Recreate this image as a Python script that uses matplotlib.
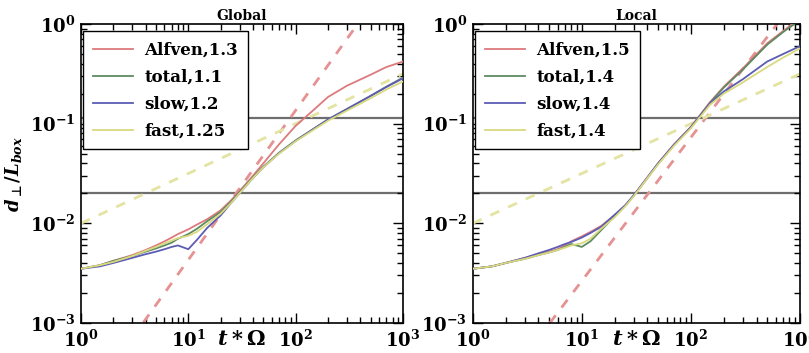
import numpy as np
import matplotlib
matplotlib.use("Agg")
from matplotlib import pyplot as plt

# 时间网格
t_vals = [1, 1.5, 2, 3, 4, 5, 6, 7, 8, 10, 12, 15, 20, 25, 30, 40, 50, 70,
          100, 150, 200, 300, 500, 700, 1000]

# Global 面板
glob_alfven = [0.0035, 0.0038, 0.0042, 0.0048, 0.0054, 0.0060, 0.0066, 0.0072, 0.0078,
               0.0087, 0.0097, 0.0110, 0.0135, 0.0170, 0.0210, 0.0300, 0.0400, 0.0620,
               0.0950, 0.1400, 0.1850, 0.2400, 0.3100, 0.3700, 0.4200]
glob_total = [0.0035, 0.0038, 0.0042, 0.0047, 0.0052, 0.0056, 0.0060, 0.0064, 0.0070,
              0.0078, 0.0088, 0.0105, 0.0130, 0.0165, 0.0205, 0.0290, 0.0370, 0.0510,
              0.0680, 0.0900, 0.1100, 0.1400, 0.1900, 0.2350, 0.2900]
glob_slow = [0.0035, 0.0037, 0.0040, 0.0045, 0.0049, 0.0052, 0.0055, 0.0058, 0.0060,
             0.0055, 0.0068, 0.0090, 0.0120, 0.0160, 0.0200, 0.0285, 0.0365, 0.0505,
             0.0670, 0.0900, 0.1100, 0.1400, 0.1900, 0.2330, 0.2850]
glob_fast = [0.0035, 0.0038, 0.0041, 0.0047, 0.0053, 0.0058, 0.0063, 0.0067, 0.0071,
             0.0075, 0.0082, 0.0098, 0.0125, 0.0160, 0.0200, 0.0285, 0.0365, 0.0500,
             0.0665, 0.0880, 0.1070, 0.1350, 0.1800, 0.2200, 0.2650]

# Local 面板
loc_alfven = [0.0035, 0.0037, 0.0040, 0.0045, 0.0049, 0.0052, 0.0055, 0.0060, 0.0066,
              0.0074, 0.0082, 0.0094, 0.0120, 0.0150, 0.0190, 0.0290, 0.0400, 0.0620,
              0.0930, 0.1650, 0.2350, 0.3600, 0.6400, 0.8500, 1.1500]
loc_total = [0.0035, 0.0037, 0.0040, 0.0044, 0.0048, 0.0051, 0.0054, 0.0058, 0.0062,
             0.0058, 0.0066, 0.0085, 0.0118, 0.0150, 0.0190, 0.0285, 0.0395, 0.0610,
             0.0920, 0.1620, 0.2300, 0.3500, 0.6200, 0.8300, 1.1000]
loc_slow = [0.0035, 0.0037, 0.0040, 0.0045, 0.0050, 0.0054, 0.0058, 0.0062, 0.0065,
            0.0072, 0.0080, 0.0092, 0.0122, 0.0152, 0.0192, 0.0290, 0.0400, 0.0615,
            0.0920, 0.1600, 0.2100, 0.2800, 0.4200, 0.5000, 0.6000]
loc_fast = [0.0035, 0.0037, 0.0040, 0.0044, 0.0048, 0.0051, 0.0054, 0.0057, 0.0060,
            0.0063, 0.0070, 0.0088, 0.0115, 0.0148, 0.0188, 0.0285, 0.0390, 0.0600,
            0.0900, 0.1550, 0.2000, 0.2600, 0.3700, 0.4600, 0.5700]

glob_labels = ["Alfven,1.3", "total,1.1", "slow,1.2", "fast,1.25"]
loc_labels = ["Alfven,1.5", "total,1.4", "slow,1.4", "fast,1.4"]

# 幂律参考线 (振幅, 指数)
glob_steep = (1.36e-4, 1.5)
loc_steep = (9.6e-5, 1.44)
shallow = (0.01, 0.5)

# 水平参考线
h_levels = [0.02, 0.115]

colors = ["#dd7a7c", "#5d8a62", "#5c5cb4", "#d9d97e"]

plt.rcParams["font.family"] = "DejaVu Serif"
plt.rcParams["font.weight"] = "bold"
plt.rcParams["mathtext.fontset"] = "custom"
plt.rcParams["mathtext.rm"] = "DejaVu Serif:bold"
plt.rcParams["mathtext.it"] = "DejaVu Serif:italic:bold"
plt.rcParams["mathtext.bf"] = "DejaVu Serif:bold"
plt.rcParams["mathtext.sf"] = "DejaVu Sans:bold"


def draw_panel(ax, title, series, labels, steep, show_ylabel):
    t = np.array(t_vals)
    for lv in h_levels:
        ax.axhline(lv, color="#6e6e6e", lw=1.6, zorder=1)
    tt = np.logspace(0, 3, 200)
    ax.plot(tt, steep[0] * tt ** steep[1], color="#e59292", lw=2,
            dashes=(3.5, 3.5), zorder=2)
    ax.plot(tt, shallow[0] * tt ** shallow[1], color="#e3e3a2", lw=2,
            dashes=(3.5, 3.5), zorder=2)
    for ys, c, lab in zip(series, colors, labels):
        ax.plot(t, ys, color=c, lw=1.3, label=lab, zorder=3)
    ax.set_xscale("log")
    ax.set_yscale("log")
    ax.set_xlim(1, 1000)
    ax.set_ylim(1e-3, 1)
    ax.tick_params(which="both", direction="in", top=True, right=True,
                   labelsize=13, pad=4)
    ax.tick_params(axis="x", pad=5)
    ax.tick_params(which="major", length=7, width=1)
    ax.tick_params(which="minor", length=4, width=1)
    for s in ax.spines.values():
        s.set_linewidth(1.2)
    ax.set_title(title, fontsize=10, fontweight="bold", pad=3)
    ax.set_xlabel(r"$t*\Omega$", fontsize=15)
    ax.xaxis.set_label_coords(0.5, -0.025)
    if show_ylabel:
        ax.set_ylabel(r"$d_{\mathsf{\bot}}/L_{box}$", fontsize=13, labelpad=4)
    leg = ax.legend(loc="upper left", bbox_to_anchor=(0.006, 0.975),
                    borderaxespad=0, fontsize=12, frameon=True, fancybox=False,
                    edgecolor="black", framealpha=1,
                    handlelength=2.4, handletextpad=0.7, labelspacing=0.6,
                    borderpad=0.6)
    leg.get_frame().set_linewidth(1.0)
    leg.set_zorder(5)


fig = plt.figure(figsize=(8.09, 3.53), dpi=100)
ax1 = fig.add_axes([0.1001, 0.085, 0.398, 0.847])
ax2 = fig.add_axes([0.5843, 0.085, 0.4046, 0.847])

draw_panel(ax1, "Global", [glob_alfven, glob_total, glob_slow, glob_fast],
           glob_labels, glob_steep, True)
draw_panel(ax2, "Local", [loc_alfven, loc_total, loc_slow, loc_fast],
           loc_labels, loc_steep, False)

fig.savefig("out.png", dpi=100)
